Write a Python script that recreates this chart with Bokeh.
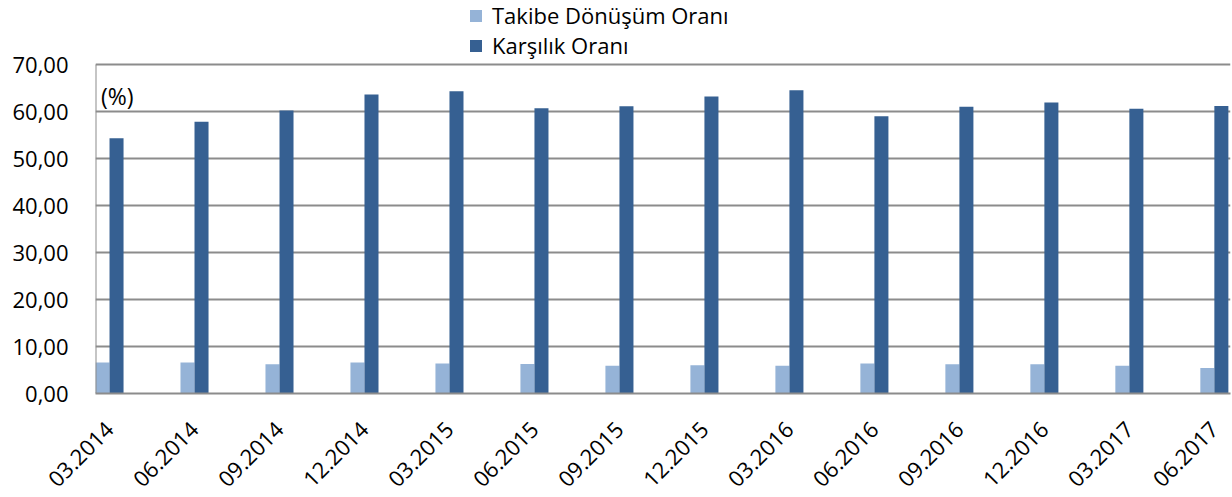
from bokeh.plotting import figure
from bokeh.models import (ColumnDataSource, Range1d, FixedTicker, CustomJSTickFormatter,
                          Legend, LegendItem, Label)
from bokeh.transform import dodge
from bokeh.embed import file_html
from bokeh.resources import INLINE
import math

categories = ["03.2014", "06.2014", "09.2014", "12.2014", "03.2015", "06.2015", "09.2015",
              "12.2015", "03.2016", "06.2016", "09.2016", "12.2016", "03.2017", "06.2017"]
takibe = [6.6, 6.6, 6.2, 6.6, 6.4, 6.3, 5.9, 6.0, 5.9, 6.4, 6.2, 6.2, 5.9, 5.4]
karsilik = [54.3, 57.8, 60.2, 63.6, 64.3, 60.7, 61.1, 63.2, 64.5, 59.0, 61.0, 61.9, 60.6, 61.2]
y_ticks = [0, 10, 20, 30, 40, 50, 60, 70]

FONT = "Open Sans"
LIGHT = "#95B3D7"
DARK = "#366092"
GRID = "#8C8C8C"

# frame spans the full canvas height above the x axis; the axis scale runs 0..70 in
# the lower 334 px, the upper 65 px hold the legend
Y_TOP = 70 * 399 / 334

src = ColumnDataSource(dict(x=list(range(len(categories))), takibe=takibe, karsilik=karsilik))

p = figure(width=1232, height=497, output_backend="svg", toolbar_location=None,
           x_range=Range1d(-0.165, 13.19), y_range=Range1d(0, Y_TOP),
           min_border_left=95, min_border_right=2, min_border_top=0, min_border_bottom=98)
p.outline_line_color = None
p.background_fill_color = "white"

bw = 0.165
r1 = p.vbar(x=dodge("x", -bw / 2, range=p.x_range), top="takibe", width=bw, source=src,
            fill_color=LIGHT, line_color=None)
r2 = p.vbar(x=dodge("x", bw / 2, range=p.x_range), top="karsilik", width=bw, source=src,
            fill_color=DARK, line_color=None)

# left frame line, from 0 to 70 only
p.segment(x0=[p.x_range.start], y0=[y_ticks[0]], x1=[p.x_range.start], y1=[y_ticks[-1]],
          line_color=GRID, line_width=2)

# x axis
p.xaxis.ticker = FixedTicker(ticks=list(range(len(categories))))
p.xaxis.major_label_overrides = {i: c for i, c in enumerate(categories)}
p.xaxis.major_label_orientation = math.pi / 4
p.xaxis.major_label_text_font = FONT
p.xaxis.major_label_text_font_size = "22px"
p.xaxis.major_label_text_color = "black"
p.xaxis.major_label_standoff = 26
p.xaxis.major_tick_line_color = None
p.xaxis.minor_tick_line_color = None
p.xaxis.axis_line_color = GRID
p.xaxis.axis_line_width = 2
p.xgrid.grid_line_color = None

# y axis
p.yaxis.ticker = FixedTicker(ticks=y_ticks)
p.yaxis.formatter = CustomJSTickFormatter(code="return tick.toFixed(2).replace('.', ',');")
p.yaxis.major_label_text_font = FONT
p.yaxis.major_label_text_font_size = "22px"
p.yaxis.major_label_text_color = "black"
p.yaxis.major_label_standoff = 21
p.yaxis.major_tick_line_color = None
p.yaxis.minor_tick_line_color = None
p.yaxis.axis_line_color = None
p.ygrid.ticker = FixedTicker(ticks=y_ticks)
p.ygrid.grid_line_color = GRID
p.ygrid.grid_line_width = 2

legend = Legend(items=[LegendItem(label="Takibe Dönüşüm Oranı", renderers=[r1]),
                       LegendItem(label="Karşılık Oranı", renderers=[r2])],
                orientation="vertical", location=(373, 333))
legend.label_text_font = FONT
legend.label_text_font_size = "22px"
legend.label_text_color = "black"
legend.glyph_width = 15
legend.glyph_height = 15
legend.label_height = 22
legend.label_standoff = 9
legend.spacing = -4
legend.padding = 0
legend.margin = 0
legend.border_line_color = None
legend.background_fill_alpha = 0
p.add_layout(legend, "center")

p.add_layout(Label(x=-0.1, y=63.3, text="(%)", text_font=FONT, text_font_size="23px",
                   text_baseline="middle", text_color="black"))

open("out.html", "w").write(file_html(p, INLINE))
